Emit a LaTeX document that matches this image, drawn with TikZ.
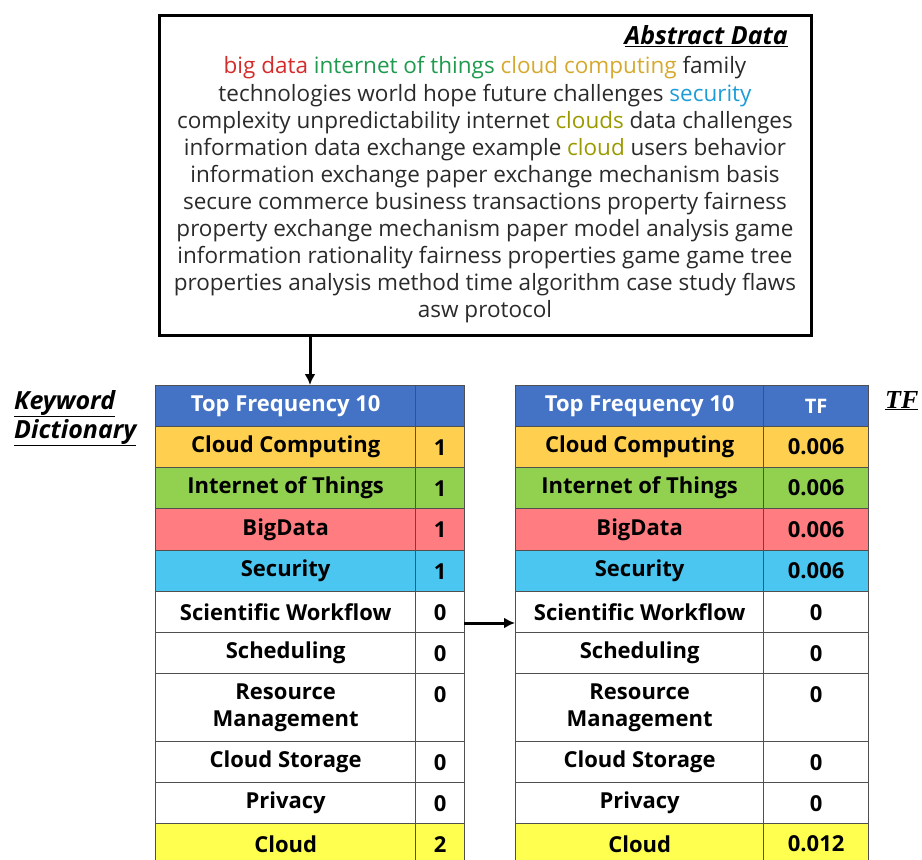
\documentclass[tikz,border=0pt]{standalone}
\usepackage{fontspec}
\setmainfont{Open Sans}
\newfontfamily\tfserif{Liberation Serif}
\usetikzlibrary{arrows.meta}
\definecolor{hdr}{HTML}{4472C4}
\definecolor{org}{HTML}{FFD04F}
\definecolor{grn}{HTML}{92D050}
\definecolor{pnk}{HTML}{FF7C80}
\definecolor{cyn}{HTML}{4BC6F0}
\definecolor{yel}{HTML}{FFFF4F}
\definecolor{wht}{HTML}{FFFFFF}
\definecolor{txtred}{HTML}{D42B2B}
\definecolor{txtgrn}{HTML}{1F9A4E}
\definecolor{txtgold}{HTML}{D6A92E}
\definecolor{txtblue}{HTML}{1E9CD7}
\definecolor{txtolive}{HTML}{9A9A00}
\definecolor{body}{HTML}{2A2A2A}
\definecolor{gridc}{HTML}{505050}
\begin{document}
\begin{tikzpicture}[x=1pt,y=-1pt,
  cell/.style={draw=gridc, line width=1.3pt, inner sep=0pt, anchor=north west, align=center,
    font=\fontsize{22}{27}\selectfont\bfseries, text=black},
  absbox/.style={draw=black, line width=3pt, inner sep=0pt, anchor=north west},
  abstext/.style={align=center, inner sep=0pt, text=body, font=\fontsize{22.5}{27.1}\selectfont},
  lbl/.style={inner sep=0pt, font=\bfseries\itshape, text=black},
  arr/.style={line width=3pt, -{Latex[length=11pt,width=11pt]}}]
\useasboundingbox (0,0) rectangle (922,860);

% abstract box
\node[absbox, minimum width=652pt, minimum height=320pt] (abs) at (158,14) {};
\node[lbl, anchor=east, font=\fontsize{25}{27}\selectfont\bfseries\itshape] (abstitle) at (788,36) {\underline{Abstract Data}};
\node[abstext] (abswords) at (485,190) {%
\textcolor{txtred}{big data} \textcolor{txtgrn}{internet of things} \textcolor{txtgold}{cloud computing} family\\
technologies world hope future challenges \textcolor{txtblue}{security}\\
complexity unpredictability internet \textcolor{txtolive}{clouds} data challenges\\
information data exchange example \textcolor{txtolive}{cloud} users behavior\\
information exchange paper exchange mechanism basis\\
secure commerce business transactions property fairness\\
property exchange mechanism paper model analysis game\\
information rationality fairness properties game game tree\\
properties analysis method time algorithm case study flaws\\
asw protocol};

% side labels
\node[lbl, anchor=north west, align=left, font=\fontsize{25}{29}\selectfont\bfseries\itshape] (kwd) at (14,390) {\underline{Keyword}\\\underline{Dictionary}};
\node[lbl, anchor=north west, font=\fontsize{26}{28}\selectfont\tfserif\bfseries\itshape] (tflbl) at (885,391) {\underline{TF}};

% tables
\foreach \i/\y/\h/\c/\t/\v/\w in {
 0/385/41/hdr/{\textcolor{white}{Top Frequency 10}}/{}/{\textcolor{white}{\fontsize{20}{22}\selectfont TF}},
 1/426/41/org/{Cloud Computing}/{1}/{0.006},
 2/467/41/grn/{Internet of Things}/{1}/{0.006},
 3/508/42/pnk/{BigData}/{1}/{0.006},
 4/550/41/cyn/{Security}/{1}/{0.006},
 5/591/41/wht/{Scientific Workflow}/{0}/{0},
 6/632/41/wht/{Scheduling}/{0}/{0},
 7/673/68/wht/{Resource\\Management}/{0\\\phantom{0}}/{0\\\phantom{0}},
 8/741/41/wht/{Cloud Storage}/{0}/{0},
 9/782/41/wht/{Privacy}/{0}/{0},
 10/823/41/yel/{Cloud}/{2}/{0.012}} {
  \node[cell, fill=\c, minimum width=260pt, minimum height=\h pt] (L\i a) at (155,\y) {\t};
  \node[cell, fill=\c, minimum width=49pt, minimum height=\h pt] (L\i b) at (415,\y) {\v};
  \node[cell, fill=\c, minimum width=248pt, minimum height=\h pt] (R\i a) at (515,\y) {\t};
  \node[cell, fill=\c, minimum width=105pt, minimum height=\h pt] (R\i b) at (763,\y) {\w};
}

% arrows
\coordinate (a1) at (310,334);
\draw[arr] (a1) -- (a1 |- L0a.north);
\coordinate (a2) at (464,623);
\draw[arr] (a2) -- (a2 -| R5a.west);
\end{tikzpicture}
\end{document}
